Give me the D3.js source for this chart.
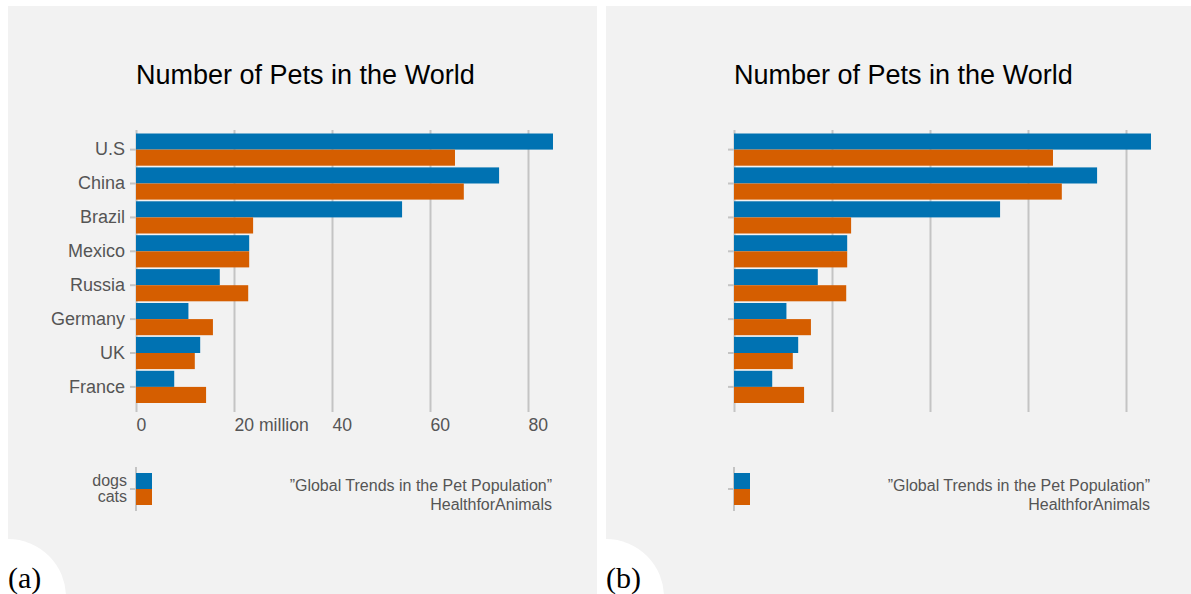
<!DOCTYPE html>
<html>
<head>
<meta charset="utf-8">
<script src="https://cdn.jsdelivr.net/npm/d3@7"></script>
<style>
  body { margin: 0; background: #fff; }
  svg { display: block; }
</style>
</head>
<body>
<svg id="chart" width="1191" height="594"></svg>
<script>
// data (millions)
var countries = ["U.S", "China", "Brazil", "Mexico", "Russia", "Germany", "UK", "France"];
var dogs = [85.1, 74.1, 54.3, 23.1, 17.1, 10.7, 13.1, 7.8];
var cats = [65.1, 66.9, 23.9, 23.1, 22.9, 15.7, 12.0, 14.3];
var series = ["dogs", "cats"];
var xTicks = [0, 20, 40, 60, 80];
var title = "Number of Pets in the World";
var sourceLines = ["\u201DGlobal Trends in the Pet Population\u201D", "HealthforAnimals"];
var panelTags = ["(a)", "(b)"];

var colors = { dogs: "#0072B2", cats: "#D55E00" };
var grey = "#c4c4c4";
var labelColor = "#555";
var sans = "'Liberation Sans', Arial, sans-serif";

var svg = d3.select("#chart");

function drawPanel(offsetX, showLabels, tag, id) {
    var g = svg.append("g").attr("transform", "translate(" + offsetX + ",0)");

    // clip so the corner circle stays in its own panel
    g.append("clipPath").attr("id", id)
        .append("rect")
        .attr("x", 8).attr("y", 6)
        .attr("width", 589).attr("height", 588);
    g = g.append("g").attr("clip-path", "url(#" + id + ")")
        .style("font-family", sans);

    // panel background
    g.append("rect")
        .attr("x", 8).attr("y", 6)
        .attr("width", 589).attr("height", 588)
        .attr("fill", "#f2f2f2");

    var x = d3.scaleLinear().domain([0, 80]).range([136, 528]);
    var y = d3.scaleBand().domain(countries).range([133.5, 403]).paddingInner(0.05);
    var ySub = d3.scaleBand().domain(series).range([0, y.bandwidth()]);

    // title
    g.append("text")
        .attr("x", 136).attr("y", 84)
        .attr("font-size", 27)
        .attr("fill", "#000")
        .text(title);

    // grid / x axis
    var xAxis = g.append("g")
        .attr("transform", "translate(0,412)")
        .call(d3.axisBottom(x)
            .tickValues(xTicks)
            .tickSize(-(412 - 130))
            .tickFormat(function(d) { return d === 20 ? "20 million" : d; }));
    xAxis.attr("font-family", null);
    xAxis.select(".domain").remove();
    xAxis.selectAll(".tick line").attr("stroke", grey).attr("stroke-width", 2);
    xAxis.selectAll(".tick text")
        .attr("text-anchor", "start")
        .attr("x", 0).attr("y", 7).attr("dy", "0.71em")
        .attr("font-size", 17.6)
        .attr("fill", labelColor)
        .style("display", showLabels ? null : "none");

    // y axis
    var yAxis = g.append("g")
        .attr("transform", "translate(136,0)")
        .call(d3.axisLeft(y).tickSize(6).tickPadding(5));
    yAxis.attr("font-family", null);
    yAxis.select(".domain").remove();
    yAxis.selectAll(".tick line").attr("stroke", grey).attr("stroke-width", 2);
    yAxis.selectAll(".tick text")
        .attr("font-size", 18)
        .attr("fill", labelColor)
        .style("display", showLabels ? null : "none");

    // bars
    var rows = countries.map(function(c, i) { return { country: c, dogs: dogs[i], cats: cats[i] }; });
    var groups = g.append("g").selectAll("g")
        .data(rows)
        .enter().append("g")
        .attr("transform", function(d) { return "translate(0," + y(d.country) + ")"; });
    groups.selectAll("rect")
        .data(function(d) { return series.map(function(s) { return { key: s, value: d[s] }; }); })
        .enter().append("rect")
        .attr("x", x(0))
        .attr("y", function(d) { return ySub(d.key); })
        .attr("width", function(d) { return x(d.value) - x(0); })
        .attr("height", ySub.bandwidth())
        .attr("fill", function(d) { return colors[d.key]; });

    // legend
    var ly = d3.scaleBand().domain(series).range([473, 505]);
    var legend = g.append("g");
    legend.append("line")
        .attr("x1", 136).attr("x2", 136)
        .attr("y1", 467).attr("y2", 511)
        .attr("stroke", grey).attr("stroke-width", 2);
    legend.append("line")
        .attr("x1", 130).attr("x2", 136)
        .attr("y1", 489).attr("y2", 489)
        .attr("stroke", grey).attr("stroke-width", 2);
    legend.selectAll("rect")
        .data(series)
        .enter().append("rect")
        .attr("x", 136).attr("y", function(d) { return ly(d); })
        .attr("width", 16).attr("height", ly.bandwidth())
        .attr("fill", function(d) { return colors[d]; });
    if (showLabels) {
        legend.selectAll("text")
            .data(series)
            .enter().append("text")
            .attr("x", 127)
            .attr("y", function(d) { return ly(d) + ly.bandwidth() / 2 - 1; })
            .attr("dy", "0.35em")
            .attr("text-anchor", "end")
            .attr("font-size", 16)
            .attr("fill", labelColor)
            .text(function(d) { return d; });
    }

    // source
    g.append("g").selectAll("text")
        .data(sourceLines)
        .enter().append("text")
        .attr("x", 552)
        .attr("y", function(d, i) { return 485 + i * 19; })
        .attr("dy", "0.35em")
        .attr("text-anchor", "end")
        .attr("font-size", 16)
        .attr("fill", labelColor)
        .text(function(d) { return d; });

    // corner tag
    g.append("circle")
        .attr("cx", 8).attr("cy", 597).attr("r", 58)
        .attr("fill", "#fff");
    g.append("text")
        .attr("x", 8).attr("y", 588)
        .style("font-family", "'Liberation Serif', 'DejaVu Serif', serif")
        .attr("font-size", 30)
        .attr("fill", "#000")
        .text(tag);
}

drawPanel(0, true, panelTags[0], "clipA");
drawPanel(598, false, panelTags[1], "clipB");
</script>
</body>
</html>
